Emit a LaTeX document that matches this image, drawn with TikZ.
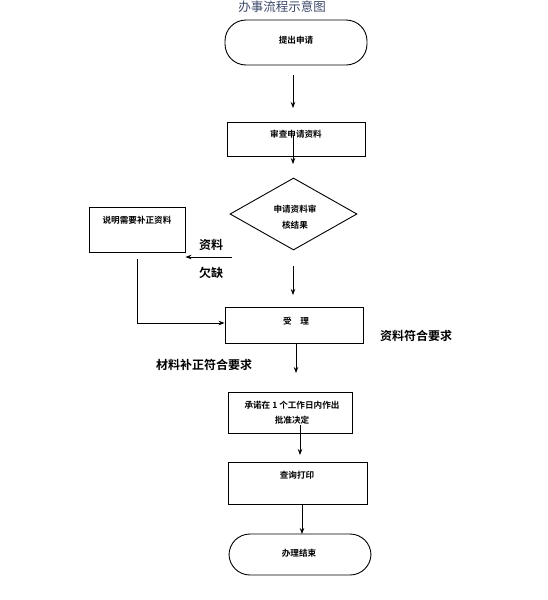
\documentclass[tikz,border=0pt]{standalone}
\usepackage{fontspec}
\newfontfamily\cjk{Noto Sans CJK SC}
\newfontfamily\cjkb{Noto Sans CJK SC Bold}
\usetikzlibrary{shapes.geometric,arrows.meta}
\definecolor{titlec}{RGB}{60,72,105}
\begin{document}
\begin{tikzpicture}[x=1pt,y=-1pt,
  every node/.style={font=\cjk},
  boxtxt/.style={font=\cjkb\fontsize{8.6}{15}\selectfont, inner sep=0pt, align=center},
  lbl/.style={font=\cjkb\fontsize{12}{14}\selectfont, inner sep=0pt},
  proc/.style={draw, line width=0.9pt, inner sep=0pt},
  term/.style={draw, line width=0.9pt, rounded corners=21pt, inner sep=0pt},
  arr/.style={line width=0.8pt, -{Stealth[length=6pt,width=4.5pt]}},
  ln/.style={line width=0.8pt}]
\useasboundingbox (0,0) rectangle (548,600);
% title
\node[font=\cjk\fontsize{12.5}{14}\selectfont, text=titlec, inner sep=0pt] (title) at (282,7) {办事流程示意图};
% start
\node[term, minimum width=142, minimum height=45] (start) at (296,42.5) {};
\node[boxtxt] (startt) at (296,40) {提出申请};
\coordinate (a1s) at (293,75); \coordinate (a1e) at (293,108);
\draw[arr] (a1s) -- (a1e);
% review
\node[proc, minimum width=138, minimum height=34] (rev) at (296,139) {};
\node[boxtxt] (revt) at (296,134) {审查申请资料};
\coordinate (a2s) at (293,135); \coordinate (a2e) at (293,164);
\draw[arr] (a2s) -- (a2e);
% diamond
\node[diamond, draw, line width=0.9pt, minimum width=127, minimum height=72, inner sep=0pt] (dec) at (293.5,214) {};
\node[boxtxt, font=\cjkb\fontsize{8.6}{16}\selectfont] (dect) at (295,217) {申请资料审\\核结果};
% left box
\node[proc, minimum width=96, minimum height=45] (need) at (137,229.5) {};
\node[boxtxt] (needt) at (137,220) {说明需要补正资料};
\coordinate (a3s) at (232,257);
\draw[arr] (a3s) -- (need.east |- a3s);
\node[lbl] (l1) at (211,245) {资料};
\node[lbl] (l2) at (211,273) {欠缺};
% down from diamond
\coordinate (a4s) at (293,266); \coordinate (a4e) at (293,295);
\draw[arr] (a4s) -- (a4e);
% accept
\node[proc, minimum width=138, minimum height=36] (acc) at (294,325) {};
\node[boxtxt] (acct) at (296,321) {受\quad 理};
\coordinate (a5s) at (137,259);
\draw[ln] (a5s) -- (137,323);
\draw[arr] (137,323) -- (acc.west |- 0,323);
\node[lbl] (l3) at (416,336) {资料符合要求};
\node[lbl] (l4) at (204,365) {材料补正符合要求};
% promise
\coordinate (a6e) at (296,373);
\draw[arr] (acc.south -| a6e) -- (a6e);
\node[proc, minimum width=124, minimum height=41] (prom) at (290,412.5) {};
\node[boxtxt] (promt) at (292,413) {承诺在 1 个工作日内作出\\批准决定};
\coordinate (a7s) at (300,425); \coordinate (a7e) at (300,455);
\draw[arr] (a7s) -- (a7e);
% query
\node[proc, minimum width=139, minimum height=42] (qry) at (297.5,483) {};
\node[boxtxt] (qryt) at (297,475) {查询打印};
\coordinate (a8e) at (302,534);
\draw[arr] (qry.south -| a8e) -- (a8e);
% end
\node[term, minimum width=142, minimum height=41] (fin) at (300,554.5) {};
\node[boxtxt] (fint) at (299,553) {办理结束};
\end{tikzpicture}
\end{document}
